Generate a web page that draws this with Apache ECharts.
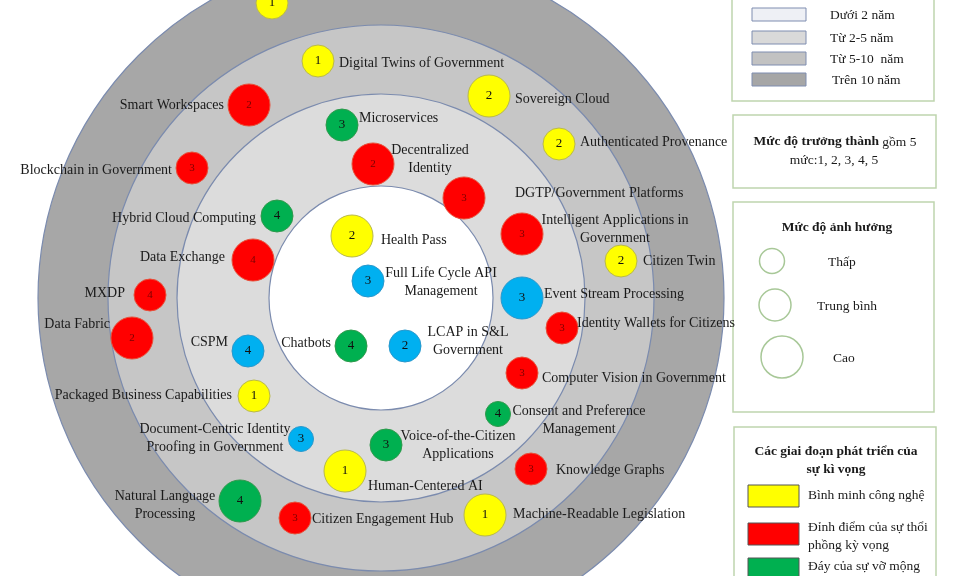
<!DOCTYPE html>
<html>
<head>
<meta charset="utf-8">
<script src="https://cdn.jsdelivr.net/npm/echarts@6/dist/echarts.min.js"></script>
<style>
  html, body { margin: 0; padding: 0; background: #fff; }
  #chart { width: 960px; height: 576px; }
</style>
</head>
<body>
<div id="chart"></div>
<script>
// vòng thời gian (bán kính, cùng đơn vị với toạ độ công nghệ)
const ringNames = ['Dưới 2 năm', 'Từ 2-5 năm', 'Từ 5-10  năm', 'Trên 10 năm'];
const ringRadii = [112, 204, 273, 343];

const stageNames = ['Bình minh công nghệ', 'Đỉnh điểm của sự thổi\nphồng kỳ vọng', 'Đáy của sự vỡ mộng'];
const impactNames = ['Thấp', 'Trung bình', 'Cao'];

const techNames = [
  '', 'Digital Twins of Government', 'Sovereign Cloud', 'Smart Workspaces',
  'Authenticated Provenance', 'Blockchain in Government', 'Microservices', 'Decentralized\nIdentity',
  'DGTP/Government Platforms', 'Intelligent Applications in\nGovernment', 'Citizen Twin', 'Hybrid Cloud Computing',
  'Health Pass', 'Data Exchange', 'Full Life Cycle API\nManagement', 'Event Stream Processing',
  'MXDP', 'Data Fabric', 'CSPM', 'Chatbots',
  'LCAP in S&L\nGovernment', 'Identity Wallets for Citizens', 'Computer Vision in Government', 'Packaged Business Capabilities',
  'Consent and Preference\nManagement', 'Document-Centric Identity\nProofing in Government', 'Voice-of-the-Citizen\nApplications', 'Human-Centered AI',
  'Knowledge Graphs', 'Natural Language\nProcessing', 'Citizen Engagement Hub', 'Machine-Readable Legislation'
];
const techX = [-109, -63, 108, -132, 178, -189, -39, -8, 83, 141, 240, -104, -29, -128, -13, 141,
  -231, -249, -133, -30, 24, 181, 141, -127, 117, -80, 5, -36, 150, -141, -86, 104];
const techY = [295, 237, 202, 193, 154, 130, 173, 134, 100, 64, 37, 82, 62, 38, 17, 0,
  3, -40, -53, -48, -48, -30, -75, -98, -116, -141, -147, -173, -171, -203, -220, -217];
// 1 thấp, 2 trung bình, 3 cao
const techImpact = [2, 2, 3, 3, 2, 2, 2, 3, 3, 3, 2, 2, 3, 3, 2, 3,
  2, 3, 2, 2, 2, 2, 2, 2, 1, 1, 2, 3, 2, 3, 2, 3];
// 0 vàng, 1 đỏ, 2 xanh lá, 3 xanh dương
const techStage = [0, 0, 0, 1, 0, 1, 2, 1, 1, 1, 0, 2, 0, 1, 3, 3,
  1, 1, 3, 2, 3, 1, 1, 0, 2, 3, 2, 0, 1, 2, 1, 0];
const techMaturity = [1, 1, 2, 2, 2, 3, 3, 2, 3, 3, 2, 4, 2, 4, 3, 3,
  4, 2, 4, 4, 2, 3, 3, 1, 4, 3, 3, 1, 3, 4, 3, 1];

// vị trí nhãn so với tâm bong bóng: [dx, dy, align]
const labelLayout = [
  [0, 0, 'left'], [21, 2, 'left'], [26, 3, 'left'], [-25, 0, 'right'],
  [21, -2, 'left'], [-20, 2, 'right'], [17, -7, 'left'], [57, -5, 'center'],
  [51, -5, 'left'], [93, -5, 'center'], [22, 0, 'left'], [-21, 2, 'right'],
  [29, 4, 'left'], [-28, -3, 'right'], [73, 1, 'center'], [22, -4, 'left'],
  [-25, -2, 'right'], [-22, -14, 'right'], [-20, -9, 'right'], [-20, -3, 'right'],
  [63, -5, 'center'], [15, -5, 'left'], [20, 5, 'left'], [-22, -1, 'right'],
  [81, 6, 'center'], [-86, -1, 'center'], [72, 0, 'center'], [23, 15, 'left'],
  [25, 1, 'left'], [-75, 4, 'center'], [17, 1, 'left'], [28, -1, 'left']
];

const FONT = '"Liberation Serif", "DejaVu Serif", serif';
const ringFill = ['#ffffff', '#dcdcdc', '#c6c6c6', '#a7a7a7'];
const ringStroke = '#7b8bae';
const stageFill = ['#ffff00', '#ff0000', '#00b050', '#00b0f0'];
const stageBorder = ['#b9b94a', '#e8503a', '#2f9a4c', '#2a98cc'];
const impactSize = [0, 25, 32, 42];
const boxStroke = '#bfd5ae';

const bubbleData = techX.map((x, i) => ({
  value: [x, techY[i]],
  itemStyle: { color: stageFill[techStage[i]], borderColor: stageBorder[techStage[i]] },
  label: techStage[i] === 1
    ? { color: '#7a0000', fontSize: 11 }
    : { color: '#111', fontSize: 13 }
}));

function legendText(x, y, text, extra) {
  return {
    type: 'text', x: x, y: y,
    style: Object.assign({ text: text, font: '13.5px ' + FONT, fill: '#1a1a1a', verticalAlign: 'middle', lineHeight: 18 }, extra || {})
  };
}

const graphics = [
  // khung thời gian
  { type: 'rect', shape: { x: 732, y: -6, width: 202, height: 107 }, style: { fill: '#fff', stroke: boxStroke, lineWidth: 1.5 } },
  // khung mức độ trưởng thành
  { type: 'rect', shape: { x: 733, y: 115, width: 203, height: 73 }, style: { fill: '#fff', stroke: boxStroke, lineWidth: 1.5 } },
  {
    type: 'text', x: 835, y: 142,
    style: {
      text: '{b|Mức độ trưởng thành} gồm 5', align: 'center', verticalAlign: 'middle',
      font: '13.5px ' + FONT, fill: '#1a1a1a',
      rich: { b: { fontWeight: 'bold', fontFamily: FONT, fontSize: 13.5, fill: '#1a1a1a' } }
    }
  },
  legendText(834, 160, 'mức:1, 2, 3, 4, 5', { align: 'center' }),
  // khung mức độ ảnh hưởng
  { type: 'rect', shape: { x: 733, y: 202, width: 201, height: 210 }, style: { fill: '#fff', stroke: boxStroke, lineWidth: 1.5 } },
  legendText(837, 228, 'Mức độ ảnh hưởng', { align: 'center', font: 'bold 13.5px ' + FONT }),
  // khung giai đoạn
  { type: 'rect', shape: { x: 734, y: 427, width: 202, height: 170 }, style: { fill: '#fff', stroke: boxStroke, lineWidth: 1.5 } },
  legendText(836, 461, 'Các giai đoạn phát triển của\nsự kì vọng', { align: 'center', font: 'bold 13.5px ' + FONT })
];

const ringSwatchY = [8, 31, 52, 73];
const ringSwatchFill = ['#eef0f5', '#d9d9d9', '#c2c2c2', '#a6a6a6'];
const ringTextX = [830, 830, 830, 832];
ringNames.forEach((n, i) => {
  graphics.push({ type: 'rect', shape: { x: 752, y: ringSwatchY[i], width: 54, height: 13 }, style: { fill: ringSwatchFill[i], stroke: '#7f8db0', lineWidth: 1 } });
  graphics.push(legendText(ringTextX[i], ringSwatchY[i] + 7, n));
});

const impactCircle = [[772, 261, 12.5], [775, 305, 16], [782, 357, 21]];
const impactTextX = [828, 817, 833];
impactNames.forEach((n, i) => {
  const c = impactCircle[i];
  graphics.push({ type: 'circle', shape: { cx: c[0], cy: c[1], r: c[2] }, style: { fill: '#fff', stroke: '#a8c898', lineWidth: 1.5 } });
  graphics.push(legendText(impactTextX[i], c[1] + 1, n));
});

const stageSwatchY = [485, 523, 558];
const stageTextY = [495, 536, 566];
stageNames.forEach((n, i) => {
  graphics.push({ type: 'rect', shape: { x: 748, y: stageSwatchY[i], width: 51, height: 22 }, style: { fill: stageFill[i], stroke: '#555', lineWidth: 1 } });
  graphics.push(legendText(808, stageTextY[i], n));
});

const chart = echarts.init(document.getElementById('chart'));
chart.setOption({
  animation: false,
  grid: { left: 0, right: 0, top: 0, bottom: 0 },
  xAxis: { type: 'value', min: -381, max: 579, show: false },
  yAxis: { type: 'value', min: -278, max: 298, show: false },
  graphic: graphics,
  series: [
    {
      type: 'custom',
      silent: true,
      z: 1,
      data: ringRadii.map((r, i) => [0, 0, r, i]).reverse(),
      renderItem: (params, api) => {
        const c = api.coord([0, 0]);
        const r = api.size([api.value(2), 0])[0];
        return {
          type: 'circle',
          shape: { cx: c[0], cy: c[1], r: r },
          style: { fill: ringFill[api.value(3)], stroke: ringStroke, lineWidth: 1.2 }
        };
      }
    },
    {
      type: 'scatter',
      z: 3,
      data: bubbleData,
      symbolSize: (val, params) => impactSize[techImpact[params.dataIndex]],
      itemStyle: { borderWidth: 1, opacity: 1 },
      label: {
        show: true,
        position: 'inside',
        fontFamily: FONT,
        formatter: (p) => String(techMaturity[p.dataIndex])
      }
    },
    {
      type: 'custom',
      silent: true,
      z: 4,
      data: techX.map((x, i) => [x, techY[i]]),
      renderItem: (params, api) => {
        const i = params.dataIndex;
        const p = api.coord([api.value(0), api.value(1)]);
        const l = labelLayout[i];
        return {
          type: 'text',
          x: p[0] + l[0],
          y: p[1] + l[1],
          style: {
            text: techNames[i],
            font: '14px ' + FONT,
            fill: '#1a1a1a',
            align: l[2],
            verticalAlign: 'middle',
            lineHeight: 18
          }
        };
      }
    }
  ]
});
</script>
</body>
</html>
